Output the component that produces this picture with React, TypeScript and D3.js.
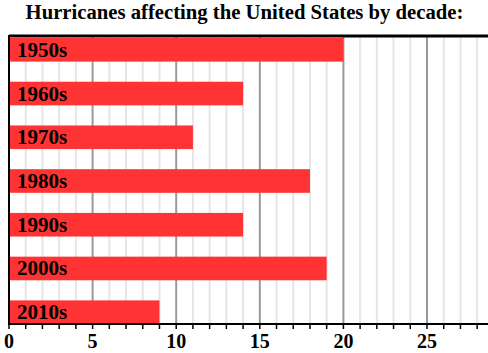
import React, { useRef, useEffect } from "react";
import * as d3 from "d3";

const decades = ["1950s", "1960s", "1970s", "1980s", "1990s", "2000s", "2010s"];
const hurricanes = [20, 14, 11, 18, 14, 19, 9];
const majorTicks = [0, 5, 10, 15, 20, 25];

const App = () => {
  const ref = useRef<SVGSVGElement | null>(null);

  useEffect(() => {
    if (!ref.current) return;
    const svg = d3.select(ref.current);
    svg.selectAll("*").remove();

    const font = "'Liberation Serif', 'Times New Roman', serif";
    const left = 9;
    const top = 37;
    const bottom = 324;
    const right = 488;

    const x = d3.scaleLinear().domain([0, 25]).range([left, 427]);
    const y = d3.scaleBand().domain(decades).range([38, bottom]).paddingInner(0.46).paddingOuter(0);

    // title
    svg.append("text")
      .attr("x", 244.5)
      .attr("y", 18.5)
      .attr("text-anchor", "middle")
      .attr("font-family", font)
      .attr("font-weight", "bold")
      .attr("font-size", 20.7)
      .text("Hurricanes affecting the United States by decade:");

    const maxV = Math.floor(x.invert(right));
    const minor = d3.range(0, maxV + 1);

    // gridlines (minor then major)
    svg.append("g")
      .selectAll("line")
      .data(minor.filter(d => d % 5 !== 0))
      .enter()
      .append("line")
      .attr("x1", d => x(d)).attr("x2", d => x(d))
      .attr("y1", top).attr("y2", bottom)
      .attr("stroke", "#e6e6e6")
      .attr("stroke-width", 2);

    svg.append("g")
      .selectAll("line")
      .data(minor.filter(d => d % 5 === 0 && d > 0))
      .enter()
      .append("line")
      .attr("x1", d => x(d)).attr("x2", d => x(d))
      .attr("y1", top).attr("y2", bottom)
      .attr("stroke", "#999999")
      .attr("stroke-width", 2);

    // bars
    svg.append("g")
      .selectAll("rect")
      .data(hurricanes)
      .enter()
      .append("rect")
      .attr("x", x(0))
      .attr("y", (d, i) => y(decades[i])!)
      .attr("width", d => x(d) - x(0))
      .attr("height", y.bandwidth())
      .attr("fill", "#ff3333");

    // bar labels
    svg.append("g")
      .selectAll("text")
      .data(decades)
      .enter()
      .append("text")
      .attr("x", 17)
      .attr("y", d => y(d)! + y.bandwidth() / 2 + 7)
      .attr("font-family", font)
      .attr("font-weight", "bold")
      .attr("font-size", 21)
      .attr("fill", "#000")
      .text(d => d);

    // frame lines
    svg.append("line")
      .attr("x1", left).attr("x2", right)
      .attr("y1", 36).attr("y2", 36)
      .attr("stroke", "#000").attr("stroke-width", 3);
    svg.append("line")
      .attr("x1", left).attr("x2", left)
      .attr("y1", 35).attr("y2", bottom)
      .attr("stroke", "#000").attr("stroke-width", 2);

    // x axis
    const axis = svg.append("g").attr("transform", `translate(0,${bottom})`);
    axis.append("line")
      .attr("x1", left - 1).attr("x2", right)
      .attr("y1", 0).attr("y2", 0)
      .attr("stroke", "#000").attr("stroke-width", 2);
    axis.selectAll("line.tick")
      .data(minor)
      .enter()
      .append("line")
      .attr("class", "tick")
      .attr("x1", d => x(d)).attr("x2", d => x(d))
      .attr("y1", 0).attr("y2", 5)
      .attr("stroke", "#000").attr("stroke-width", 1.5);
    axis.selectAll("text")
      .data(majorTicks)
      .enter()
      .append("text")
      .attr("x", d => x(d))
      .attr("y", 23.5)
      .attr("text-anchor", "middle")
      .attr("font-family", font)
      .attr("font-weight", "bold")
      .attr("font-size", 20)
      .text(d => d);
  }, []);

  return (
    <svg
      ref={ref}
      width={488}
      height={353}
      style={{ position: "absolute", left: 0, top: 0, background: "#fff" }}
    />
  );
};

export default App;
